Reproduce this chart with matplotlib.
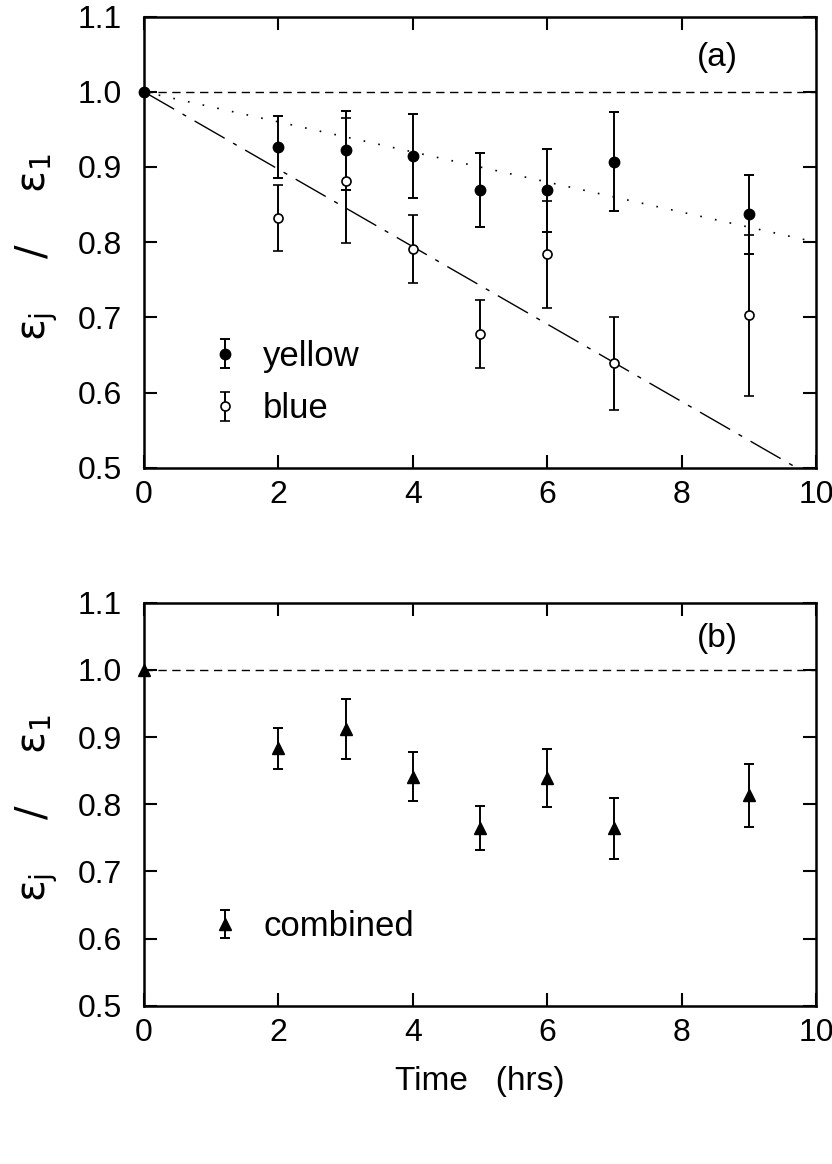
import numpy as np
import matplotlib.pyplot as plt
from matplotlib.legend_handler import HandlerErrorbar

# relative efficiency vs. time, normalised to the first measurement
hours = [0, 2, 3, 4, 5, 6, 7, 9]
yellow = [1.0, 0.927, 0.922, 0.915, 0.869, 0.869, 0.907, 0.837]
yellow_err = [0.0, 0.041, 0.053, 0.056, 0.049, 0.055, 0.066, 0.053]
blue = [1.0, 0.832, 0.882, 0.791, 0.678, 0.784, 0.639, 0.703]
blue_err = [0.0, 0.044, 0.083, 0.045, 0.045, 0.071, 0.062, 0.107]
combined = [1.0, 0.883, 0.912, 0.841, 0.765, 0.839, 0.764, 0.813]
combined_err = [0.0, 0.030, 0.045, 0.036, 0.033, 0.043, 0.045, 0.047]

# linear fits through (0, 1)
yellow_slope = -0.020
blue_slope = -0.0515

plt.rcParams['font.family'] = ['Liberation Sans', 'DejaVu Sans']
plt.rcParams['mathtext.fontset'] = 'custom'
plt.rcParams['mathtext.rm'] = 'DejaVu Sans'
plt.rcParams['mathtext.it'] = 'DejaVu Sans'

fig = plt.figure(figsize=(8.32, 11.64), dpi=100)
ax1 = fig.add_axes([0.1731, 0.5982, 0.8077, 0.3875])
ax2 = fig.add_axes([0.1731, 0.1360, 0.8077, 0.3462])

eb = dict(capsize=3.5, elinewidth=1.4, capthick=1.4, linestyle='none', color='black')
leg_kw = dict(loc='upper left', frameon=False, fontsize=25, handlelength=0.4,
              handletextpad=0.9, borderpad=0, borderaxespad=0)


def style_axes(ax):
    ax.set_xlim(0, 10)
    ax.set_ylim(0.5, 1.1)
    ax.set_xticks(np.arange(0, 11, 2))
    ax.set_yticks(np.arange(0.5, 1.11, 0.1))
    ax.set_yticklabels(['%.1f' % v for v in np.arange(0.5, 1.11, 0.1)])
    ax.tick_params(direction='in', length=9.5, width=1.5, top=True, right=True,
                   labelsize=23)
    ax.tick_params(axis='y', pad=16)
    ax.tick_params(axis='x', pad=9)
    for s in ax.spines.values():
        s.set_linewidth(1.8)
    ax.axhline(1.0, color='black', lw=1.0, ls=(0, (6, 4)))
    ax.set_ylabel(r'$\epsilon_{j}\quad\ /\ \quad\epsilon_{1}$', fontsize=29)
    ax.yaxis.set_label_coords(-0.125, 0.49)


t = np.array(hours, dtype=float)
fit_x = np.array([0.0, 10.0])

# (a) yellow and blue separately
style_axes(ax1)
ax1.plot(fit_x, 1 + yellow_slope * fit_x, color='black', lw=1.2, ls=(0, (1, 8)))
ax1.plot(fit_x, 1 + blue_slope * fit_x, color='black', lw=1.0, ls=(0, (25, 7, 3, 7)))
hb = ax1.errorbar(t[1:], blue[1:], yerr=blue_err[1:], fmt='o', ms=6.5,
                  mfc='white', mec='black', mew=1.2, label='blue', **eb)
hy = ax1.errorbar(t[1:], yellow[1:], yerr=yellow_err[1:], fmt='o', ms=7.5,
                  mfc='black', mec='black', label='yellow', **eb)
ax1.plot(t[0], yellow[0], 'o', ms=7.5, color='black', clip_on=False, zorder=5)
ax1.text(0.853, 0.91, '(a)', transform=ax1.transAxes, fontsize=24,
         ha='center', va='center')
ax1.legend(handles=[hy, hb], bbox_to_anchor=(0.110, 0.283), labelspacing=0.56,
           handler_map={type(hy): HandlerErrorbar(xerr_size=0.4, yerr_size=0.42)},
           **leg_kw)

# (b) combined
style_axes(ax2)
hc = ax2.errorbar(t[1:], combined[1:], yerr=combined_err[1:], fmt='^', ms=8,
                  mfc='black', mec='black', label='combined', **eb)
ax2.plot(t[0], combined[0], '^', ms=8, color='black', clip_on=False, zorder=5)
ax2.text(0.853, 0.91, '(b)', transform=ax2.transAxes, fontsize=24,
         ha='center', va='center')
ax2.legend(handles=[hc], bbox_to_anchor=(0.110, 0.237),
           handler_map={type(hc): HandlerErrorbar(xerr_size=0.4, yerr_size=0.39)},
           **leg_kw)
ax2.set_xlabel('Time   (hrs)', fontsize=24, labelpad=13)

fig.savefig('out.png', dpi=100)
